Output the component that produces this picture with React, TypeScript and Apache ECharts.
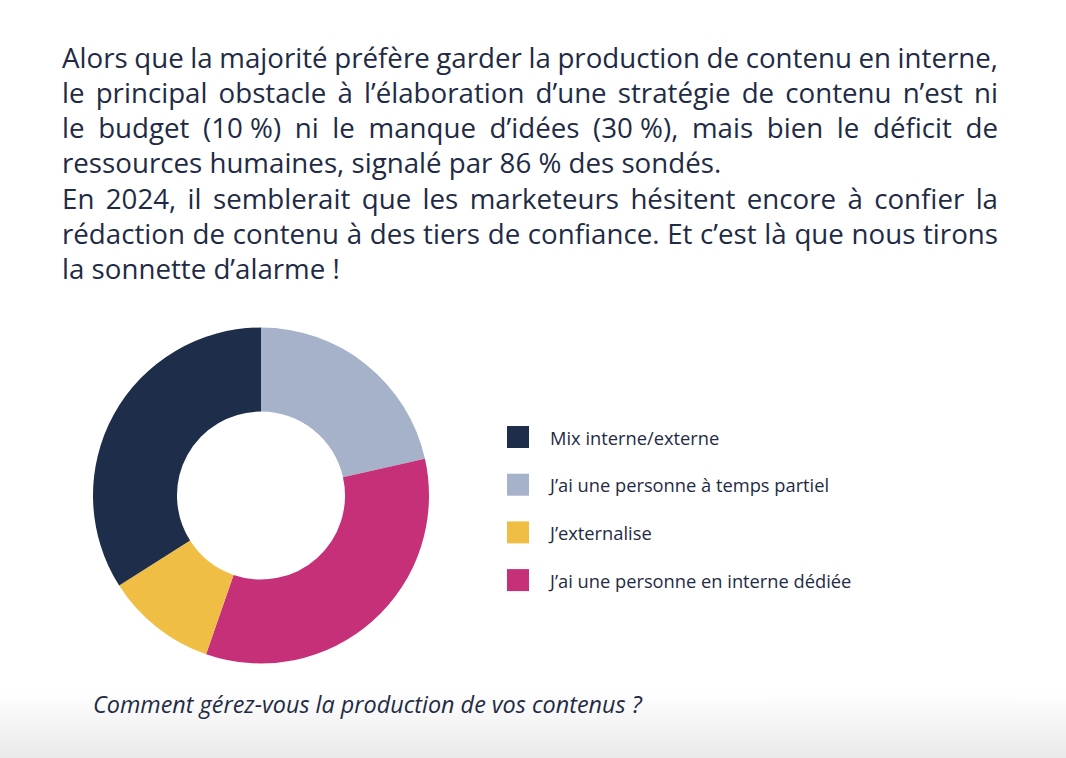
import React, { useEffect, useRef } from "react";
import * as echarts from "echarts";

// ---- data ----
const paragraphLines = [
  "Alors que la majorité préfère garder la production de contenu en interne,",
  "le principal obstacle à l’élaboration d’une stratégie de contenu n’est ni",
  "le budget (10\u00a0%) ni le manque d’idées (30\u00a0%), mais bien le déficit de",
  "ressources humaines, signalé par 86\u00a0% des sondés.",
  "En 2024, il semblerait que les marketeurs hésitent encore à confier la",
  "rédaction de contenu à des tiers de confiance. Et c’est là que nous tirons",
  "la sonnette d’alarme !",
];
const justifiedLines = [true, true, true, false, true, true, false];

const categories = [
  "Mix interne/externe",
  "J’ai une personne à temps partiel",
  "J’externalise",
  "J’ai une personne en interne dédiée",
];
const shares = [34, 21.5, 10.7, 33.8];
const sliceColors = ["#1d2d4a", "#a6b2ca", "#f0be45", "#c63079"];
// clockwise from 12 o'clock
const drawOrder = [1, 3, 2, 0];
const caption = "Comment gérez-vous la production de vos contenus ?";

const TEXT_COLOR = "#1f2b45";
const FONT = '"Open Sans", sans-serif';

export default function App() {
  const ref = useRef<HTMLDivElement>(null);

  useEffect(() => {
    document.body.style.margin = "0";
    if (!ref.current) return;
    const chart = echarts.init(ref.current, null, { renderer: "svg" });

    const canvas = document.createElement("canvas");
    const ctx = canvas.getContext("2d")!;
    const pSize = 27.7;
    ctx.font = `${pSize}px ${FONT}`;
    const left = 62;
    const right = 998;
    const width = right - left;
    const firstCenter = 56.5;
    const lineStep = 35.3;

    const textEls: any[] = [];
    paragraphLines.forEach((line, li) => {
      const y = firstCenter + li * lineStep;
      const baseStyle = {
        fontSize: pSize,
        fontFamily: FONT,
        fill: TEXT_COLOR,
        verticalAlign: "middle",
        textVerticalAlign: "middle",
      };
      if (!justifiedLines[li]) {
        textEls.push({ type: "text", x: left, y, style: { ...baseStyle, text: line } });
        return;
      }
      const words = line.split(" ");
      const widths = words.map((w) => ctx.measureText(w).width);
      const total = widths.reduce((a, b) => a + b, 0);
      const gap = (width - total) / (words.length - 1);
      let x = left;
      words.forEach((w, wi) => {
        textEls.push({ type: "text", x, y, style: { ...baseStyle, text: w } });
        x += widths[wi] + gap;
      });
    });

    chart.setOption({
      animation: false,
      backgroundColor: "#ffffff",
      legend: {
        orient: "vertical",
        left: 507,
        top: 426,
        padding: 0,
        itemWidth: 22,
        itemHeight: 22,
        itemGap: 25.7,
        icon: "rect",
        selectedMode: false,
        data: categories,
        textStyle: {
          fontSize: 18.3,
          lineHeight: 22,
          fontFamily: FONT,
          color: TEXT_COLOR,
          padding: [0, 0, 0, 16],
        },
      },
      graphic: [
        {
          type: "rect",
          z: -10,
          shape: { x: 0, y: 692, width: 1066, height: 66 },
          style: {
            fill: new echarts.graphic.LinearGradient(0, 0, 0, 1, [
              { offset: 0, color: "#ffffff" },
              { offset: 1, color: "#e9e9e9" },
            ]),
          },
        },
        ...textEls,
        {
          type: "text",
          x: 93,
          y: 704,
          style: {
            text: caption,
            fontSize: 23.4,
            fontStyle: "italic",
            fontFamily: FONT,
            fill: TEXT_COLOR,
            verticalAlign: "middle",
            textVerticalAlign: "middle",
          },
        },
      ],
      series: [
        {
          type: "pie",
          center: [261, 495.5],
          radius: [84, 168],
          startAngle: 90,
          clockwise: true,
          silent: true,
          label: { show: false },
          labelLine: { show: false },
          emphasis: { disabled: true },
          data: drawOrder.map((i) => ({
            name: categories[i],
            value: shares[i],
            itemStyle: { color: sliceColors[i] },
          })),
        },
      ],
    });

    return () => chart.dispose();
  }, []);

  return <div ref={ref} style={{ width: 1066, height: 758 }} />;
}
